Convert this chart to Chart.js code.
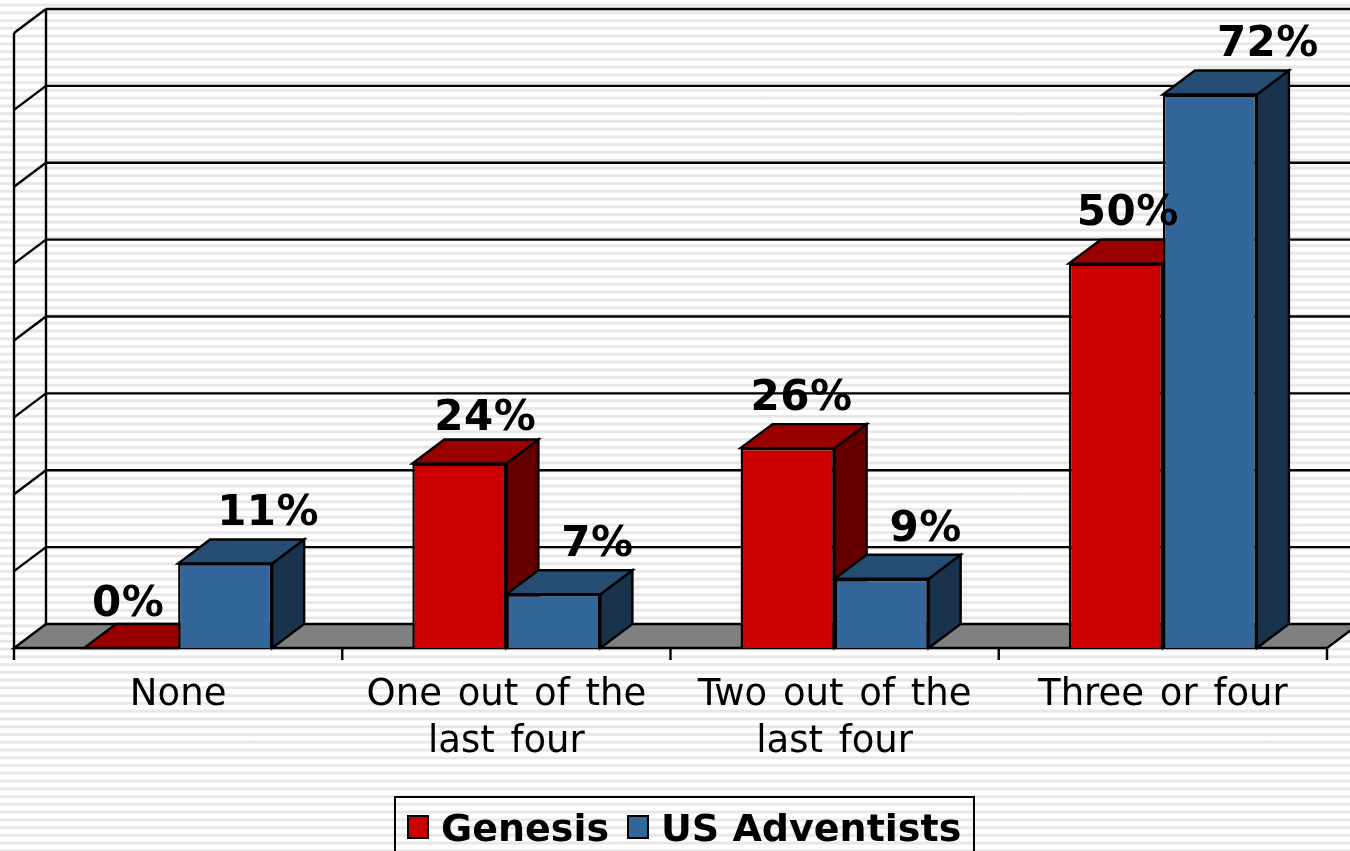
<!DOCTYPE html>
<html><head><meta charset="utf-8">
<style>
html,body{margin:0;padding:0;width:1350px;height:851px;overflow:hidden;background:#fff}
body{background-image:repeating-linear-gradient(to bottom,#ffffff 0,#ffffff 2.9px,#e7e7e7 4.1px,#e7e7e7 5.9px,#ffffff 7.1px,#ffffff 7.76px)}
canvas{position:absolute;left:0;top:0}
</style>
<script src="https://cdn.jsdelivr.net/npm/chart.js@4"></script>
</head><body>
<canvas id="c" width="1350" height="851"></canvas>
<script>
const categories=[["None"],["One out of the","last four"],["Two out of the","last four"],["Three or four"]];
const genesis=[0,24,26,50];
const adventists=[11,7,9,72];
const genesisLabels=["0%","24%","26%","50%"];
const adventistLabels=["11%","7%","9%","72%"];
const genesisLabelShift=[-3,26,14,12];
const adventistLabelShift=[43,44,44,58];
const genesisLabelRise=[32,34,38,39];
const adventistLabelRise=[38,38,38,39];
const DX=32,DY=24,LW=2.4;
const shades=[{top:'#990000',side:'#660000'},{top:'#264d73',side:'#1a334d'}];
function poly(ctx,pts,fill){
  ctx.beginPath();pts.forEach((p,i)=>i?ctx.lineTo(p[0],p[1]):ctx.moveTo(p[0],p[1]));ctx.closePath();
  ctx.fillStyle=fill;ctx.fill();ctx.lineWidth=LW;ctx.strokeStyle='#000';ctx.lineJoin='miter';ctx.stroke();
}
function line(ctx,a,b,c,d){ctx.beginPath();ctx.moveTo(a,b);ctx.lineTo(c,d);ctx.lineWidth=LW;ctx.strokeStyle='#000';ctx.stroke();}
function sides(ctx,meta,c){
  meta.data.forEach(b=>{
    const l=b.x-b.width/2,r=b.x+b.width/2,t=b.y,bs=b.base;
    poly(ctx,[[r,t],[r+DX,t-DY],[r+DX,bs-DY],[r,bs]],c.side);
    poly(ctx,[[l,t],[r,t],[r+DX,t-DY],[l+DX,t-DY]],c.top);
  });
}
const box3d={
  id:'box3d',
  beforeDraw(chart){chart.ctx.letterSpacing='0px';chart.ctx.wordSpacing='4px';},
  beforeDatasetsDraw(chart){
    const {ctx,chartArea:a,scales:{y}}=chart;
    ctx.save();
    const base=y.getPixelForValue(0);
    y.ticks.forEach(t=>{
      if(t.value>0){
        const py=y.getPixelForValue(t.value);
        line(ctx,a.left,py,a.left+DX,py-DY);
        line(ctx,a.left+DX,py-DY,1350,py-DY);
      }
    });
    line(ctx,a.left,y.getPixelForValue(y.max),a.left,base);
    line(ctx,a.left+DX,y.getPixelForValue(y.max)-DY,a.left+DX,base-DY);
    poly(ctx,[[a.left,base],[a.right,base],[a.right+DX,base-DY],[a.left+DX,base-DY]],'#808080');
    const n=chart.data.labels.length;
    for(let i=0;i<=n;i++){const px=a.left+(a.right-a.left)*i/n;line(ctx,px,base,px,base+12);}
    ctx.restore();
  },
  beforeDatasetDraw(chart,args){
    if(args.index===1)return false;
    chart.ctx.save();sides(chart.ctx,chart.getDatasetMeta(0),shades[0]);chart.ctx.restore();
  },
  afterDatasetsDraw(chart){
    const {ctx}=chart;
    const top=chart.getDatasetMeta(1);
    ctx.save();
    sides(ctx,top,shades[1]);
    top.data.forEach(e=>e.draw(ctx));
    ctx.restore();
    ctx.save();
    ctx.font='bold 42px "DejaVu Sans"';ctx.fillStyle='#000';ctx.textAlign='center';ctx.textBaseline='alphabetic';
    ctx.letterSpacing='0.5px';ctx.wordSpacing='0px';
    const put=(idx,texts,shift,rise)=>chart.getDatasetMeta(idx).data.forEach((b,i)=>{
      ctx.fillText(texts[i],b.x+shift[i],b.y-rise[i]);
    });
    put(0,genesisLabels,genesisLabelShift,genesisLabelRise);
    put(1,adventistLabels,adventistLabelShift,adventistLabelRise);
    ctx.restore();
  }
};
const legendBox={
  id:'legendBox',
  afterDraw(chart){
    const {ctx}=chart,left=395,top=797,right=974,bottom=851;
    ctx.save();
    ctx.lineWidth=2;ctx.strokeStyle='#000';ctx.beginPath();ctx.moveTo(left,bottom+2);ctx.lineTo(left,top);ctx.lineTo(right,top);ctx.lineTo(right,bottom+2);ctx.stroke();
    ctx.font='bold 38px "DejaVu Sans"';ctx.textBaseline='alphabetic';ctx.textAlign='left';ctx.letterSpacing='0px';ctx.wordSpacing='0px';
    const items=[[408,441,chart.data.datasets[0]],[628,661,chart.data.datasets[1]]];
    items.forEach(([sx,tx,ds])=>{
      ctx.fillStyle=ds.backgroundColor;ctx.fillRect(sx,816,20,22);ctx.strokeRect(sx,816,20,22);
      ctx.fillStyle='#000';ctx.fillText(ds.label,tx,841);
    });
    ctx.restore();
  }
};
new Chart(document.getElementById('c'),{
  type:'bar',
  data:{labels:categories,datasets:[
    {label:'Genesis',data:genesis,backgroundColor:'#cc0000',borderColor:'#000',borderWidth:2.4,categoryPercentage:0.573,barPercentage:1},
    {label:'US Adventists',data:adventists,backgroundColor:'#336699',borderColor:'#000',borderWidth:2.4,categoryPercentage:0.573,barPercentage:1}
  ]},
  options:{
    responsive:false,animation:false,
    layout:{padding:{left:14,right:23,top:33,bottom:0}},
    plugins:{legend:{display:false},tooltip:{enabled:false}},
    scales:{
      x:{afterFit(s){s.height=203;},grid:{display:false},border:{display:false},
         ticks:{color:'#000',font:{family:'"DejaVu Sans"',size:37,lineHeight:1.27},maxRotation:0,autoSkip:false,padding:16}},
      y:{min:0,max:80,position:'left',afterFit(s){s.width=0;},
         grid:{display:false},border:{display:false},
         ticks:{stepSize:10,display:false}}
    }
  },
  plugins:[box3d,legendBox]
});
</script>
</body></html>
